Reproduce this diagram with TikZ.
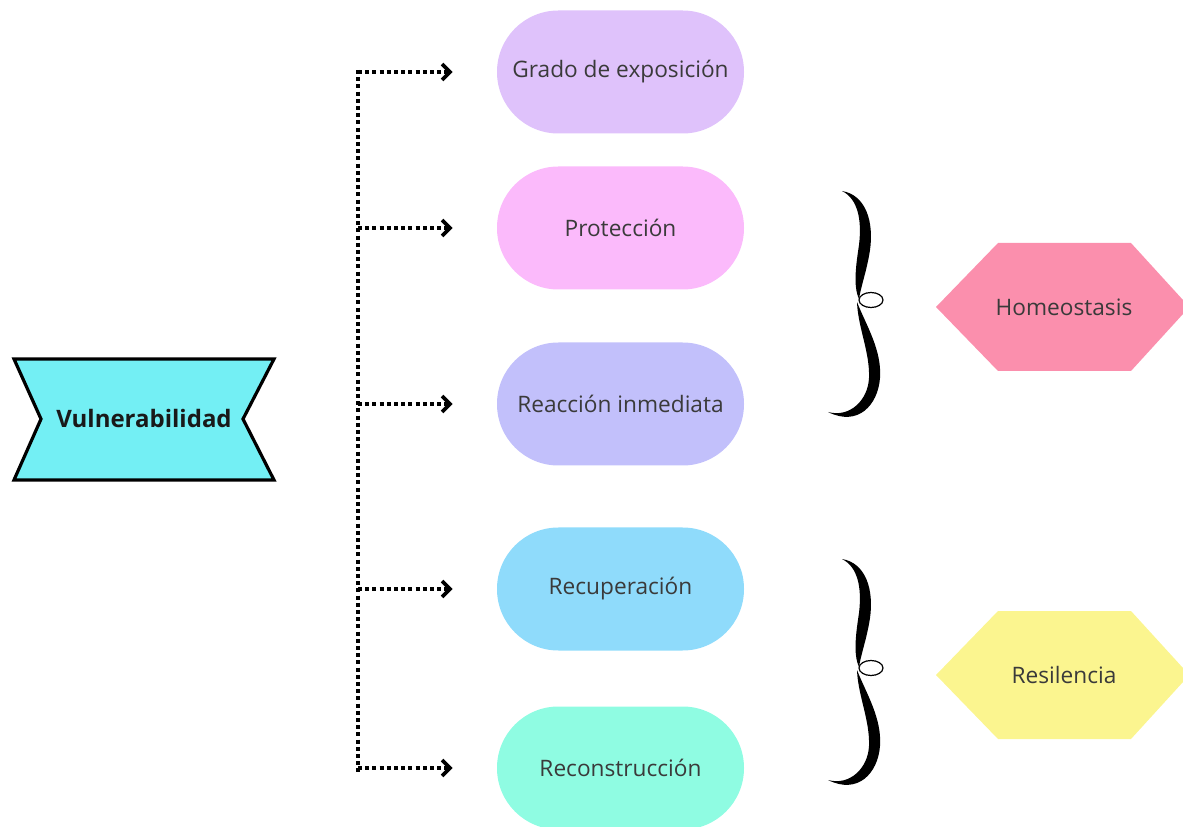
\documentclass[tikz,border=0pt]{standalone}
\usepackage{fontspec}
\setmainfont{Open Sans}
\usetikzlibrary{arrows.meta}
\definecolor{cvul}{HTML}{73EFF4}
\definecolor{cgra}{HTML}{DFC2FB}
\definecolor{cpro}{HTML}{FBBAFB}
\definecolor{crea}{HTML}{C2C0FB}
\definecolor{crec}{HTML}{8FDBFB}
\definecolor{ccon}{HTML}{8FFCE2}
\definecolor{chom}{HTML}{FB8FAD}
\definecolor{cres}{HTML}{FBF58F}
\definecolor{ctxt}{HTML}{3A3A3A}
\tikzset{
  pill/.style={rectangle, rounded corners=46pt, minimum width=185.25pt, minimum height=92.25pt, inner sep=0pt, text=ctxt, font=\fontsize{17}{20}\selectfont},
  hexlabel/.style={inner sep=0pt, text=ctxt, font=\fontsize{17}{20}\selectfont},
  trunkline/.style={line width=3.2pt, dash pattern=on 3pt off 2.4pt},
  conn/.style={line width=3.2pt, dash pattern=on 3pt off 2.4pt, -{Straight Barb[length=6pt,width=12pt,line width=2.8pt]}, shorten >=33pt},
}
\begin{document}
\begin{tikzpicture}[x=0.75pt,y=-0.75pt]
\useasboundingbox (0,0) rectangle (1183,827);
% Vulnerabilidad
\draw[line width=2.4pt, fill=cvul, line join=miter] (14,359) -- (274,359) -- (243,419) -- (274,480) -- (14,480) -- (41,419) -- cycle;
\node[inner sep=0pt, font=\bfseries\fontsize{18}{21}\selectfont, text=black!90] (vul) at (144,419) {Vulnerabilidad};
% pills
\node[pill, fill=cgra] (gra) at (620.5,72) {Grado de exposición};
\node[pill, fill=cpro] (pro) at (620.5,228) {Protección};
\node[pill, fill=crea] (rea) at (620.5,404) {Reacción inmediata};
\node[pill, fill=crec] (rec) at (620.5,589) {Recuperación};
\node[pill, fill=ccon] (con) at (620.5,768) {Reconstrucción};
% trunk
\coordinate (tx) at (358,0);
\coordinate (ttop) at (358,70);
\coordinate (tbot) at (358,772);
\draw[trunkline] (ttop) -- (tbot);
\foreach \n in {gra,pro,rea,rec,con}{
  \draw[conn] (\n.west -| tx) -- (\n.west);
}
% hexagons
\fill[chom] (936,307) -- (998,243) -- (1131,243) -- (1183,300) -- (1183,314) -- (1131,371) -- (998,371) -- cycle;
\node[hexlabel] (hom) at (1064,307) {Homeostasis};
\fill[cres] (936,675) -- (998,611) -- (1131,611) -- (1183,668) -- (1183,682) -- (1131,739) -- (998,739) -- cycle;
\node[hexlabel] (res) at (1064,675) {Resilencia};
% braces
\foreach \dy in {0,368}{
\begin{scope}[shift={(0,\dy)}]
\fill (842,191) .. controls (866,195) and (874,222) .. (870,250) .. controls (867,270) and (861,286) .. (859,299)
   .. controls (853,286) and (856,265) .. (859,245) .. controls (862,220) and (858,199) .. (842,191) -- cycle;
\draw[line width=0.9pt] (871,300) ellipse [x radius=12, y radius=7.5];
\fill (857,302) .. controls (866,325) and (882,350) .. (880,378) .. controls (878,405) and (858,427) .. (828,412)
   .. controls (850,418) and (868,400) .. (869,378) .. controls (870,352) and (858,328) .. (857,302) -- cycle;
\end{scope}
}
\end{tikzpicture}
\end{document}
